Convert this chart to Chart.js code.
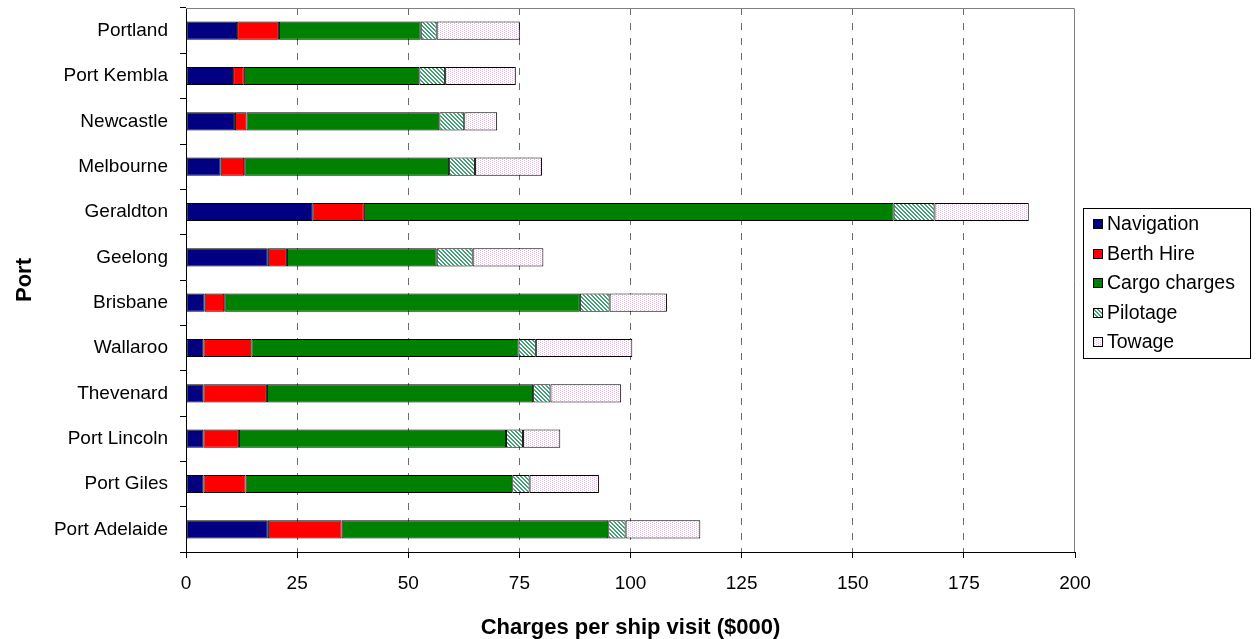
<!DOCTYPE html>
<html>
<head>
<meta charset="utf-8">
<title>Port charges per ship visit</title>
<script src="https://cdn.jsdelivr.net/npm/chart.js@4.4.1/dist/chart.umd.min.js"></script>
<style>
  html, body { margin: 0; padding: 0; background: #ffffff; }
  #wrap { position: relative; width: 1259px; height: 639px; }
</style>
</head>
<body>
<div id="wrap"><canvas id="chart"></canvas></div>
<script>
// Ports, listed top to bottom
const ports = ['Portland', 'Port Kembla', 'Newcastle', 'Melbourne', 'Geraldton', 'Geelong',
  'Brisbane', 'Wallaroo', 'Thevenard', 'Port Lincoln', 'Port Giles', 'Port Adelaide'];

// Charge components per ship visit ($000)
const navigation   = [11.5, 10.6, 11.0,  7.8,  28.4, 18.4,  4.2,  3.9,  3.9,  3.9,  3.9, 18.4];
const berthHire    = [ 9.4,  2.4,  2.6,  5.3,  11.6,  4.3,  4.4, 10.8, 14.3,  8.0,  9.5, 16.6];
const cargoCharges = [31.9, 39.5, 43.4, 46.1, 119.2, 33.7, 80.0, 60.1, 59.9, 60.1, 60.0, 60.0];
const pilotage     = [ 3.6,  5.8,  5.6,  5.8,   9.2,  8.1,  6.7,  3.9,  3.9,  3.8,  3.9,  3.9];
const towage       = [18.7, 15.9,  7.4, 15.1,  21.2, 15.9, 12.9, 21.7, 15.9,  8.4, 15.6, 16.8];

const seriesNames = ['Navigation', 'Berth Hire', 'Cargo charges', 'Pilotage', 'Towage'];

// Value axis
const xMin = 0;
const xMax = 200;
const xStep = 25;

const FONT = "'Liberation Sans', Arial, Helvetica, sans-serif";

// Small repeating tiles for the hatched fills
function makePattern(size, draw) {
  const tile = document.createElement('canvas');
  tile.width = size; tile.height = size;
  const t = tile.getContext('2d');
  t.fillStyle = '#ffffff';
  t.fillRect(0, 0, size, size);
  draw(t);
  return document.getElementById('chart').getContext('2d').createPattern(tile, 'repeat');
}

const pilotageFill = makePattern(4, t => {
  t.fillStyle = '#44a077';
  for (let y = 0; y < 4; y++) {
    t.fillRect(y % 4, y, 1, 1);
    t.fillRect((y + 1) % 4, y, 1, 1);
  }
});

const towageFill = makePattern(4, t => {
  t.fillStyle = '#dcc0dc';
  t.fillRect(0, 0, 1, 1);
  t.fillRect(0, 2, 1, 1);
  t.fillRect(2, 1, 1, 1);
  t.fillRect(2, 3, 1, 1);
});

const fills = ['#000080', '#ff0000', '#008000', pilotageFill, towageFill];
const values = [navigation, berthHire, cargoCharges, pilotage, towage];

// Plot frame: top and right edges of the plot area
const plotFrame = {
  id: 'plotFrame',
  afterDatasetsDraw(chart) {
    const { ctx, chartArea: a } = chart;
    ctx.save();
    ctx.strokeStyle = '#808080';
    ctx.lineWidth = 1;
    ctx.beginPath();
    ctx.moveTo(a.left, a.top + 0.5);
    ctx.lineTo(a.right - 0.5, a.top + 0.5);
    ctx.lineTo(a.right - 0.5, a.bottom);
    ctx.stroke();
    ctx.restore();
  }
};

// Framed legend to the right of the plot
const boxedLegend = {
  id: 'boxedLegend',
  afterDraw(chart, args, o) {
    const { ctx } = chart;
    ctx.save();
    ctx.lineWidth = 1;
    ctx.strokeStyle = '#000000';
    ctx.strokeRect(o.left + 0.5, o.top + 0.5, o.width, o.height);
    ctx.font = o.fontSize + 'px ' + FONT;
    ctx.textBaseline = 'middle';
    ctx.textAlign = 'left';
    chart.data.datasets.forEach((ds, i) => {
      const cy = Math.round(o.top + o.firstRow + i * o.rowGap);
      const bx = o.left + o.boxInset;
      ctx.fillStyle = ds.backgroundColor;
      ctx.fillRect(bx, cy - o.box / 2, o.box, o.box);
      ctx.strokeStyle = '#000000';
      ctx.strokeRect(bx + 0.5, cy - o.box / 2 + 0.5, o.box - 1, o.box - 1);
      ctx.fillStyle = '#000000';
      ctx.fillText(ds.label, bx + o.box + o.textGap, cy + 1);
    });
    ctx.restore();
  }
};

new Chart(document.getElementById('chart'), {
  type: 'bar',
  data: {
    labels: ports,
    datasets: seriesNames.map((name, i) => ({
      label: name,
      data: values[i],
      backgroundColor: fills[i],
      borderColor: '#000000',
      borderWidth: 1,
      borderSkipped: false,
      barPercentage: 0.4,
      categoryPercentage: 1.0
    }))
  },
  options: {
    indexAxis: 'y',
    responsive: true,
    maintainAspectRatio: false,
    animation: false,
    events: [],
    layout: { padding: { top: 8, right: 184, bottom: 0, left: 0 } },
    plugins: {
      legend: { display: false },
      tooltip: { enabled: false },
      boxedLegend: {
        left: 1083, top: 208, width: 167, height: 150,
        firstRow: 16, rowGap: 29.5, box: 10, boxInset: 10, textGap: 4, fontSize: 19.5
      }
    },
    scales: {
      x: {
        stacked: true,
        min: xMin,
        max: xMax,
        afterFit(scale) { scale.height = 87; },
        ticks: {
          stepSize: xStep,
          padding: 14,
          color: '#000000',
          font: { family: FONT, size: 19 }
        },
        grid: {
          color: ctx => (ctx.tick && (ctx.tick.value === xMin || ctx.tick.value === xMax)) ? 'rgba(0,0,0,0)' : '#6b6b6b',
          lineWidth: 1,
          tickColor: '#000000',
          tickLength: 6,
          drawTicks: true
        },
        border: { display: true, color: '#000000', width: 1, dash: [7, 8] },
        title: {
          display: true,
          text: 'Charges per ship visit ($000)',
          color: '#000000',
          font: { family: FONT, size: 22, weight: 'bold', lineHeight: 1 },
          padding: { top: 22, bottom: 0 }
        }
      },
      y: {
        stacked: true,
        afterFit(scale) {
          scale.width = 186;
          scale.paddingTop = 0;
          scale.paddingBottom = 0;
        },
        ticks: {
          padding: 12,
          color: '#000000',
          font: { family: FONT, size: 19 }
        },
        grid: {
          drawOnChartArea: false,
          drawTicks: true,
          tickLength: 6,
          tickColor: '#000000',
          offset: true
        },
        border: { display: true, color: '#000000', width: 1 },
        title: {
          display: true,
          text: 'Port',
          color: '#000000',
          font: { family: FONT, size: 22, weight: 'bold', lineHeight: 1 },
          padding: { top: 14, bottom: 0 }
        }
      }
    }
  },
  plugins: [plotFrame, boxedLegend]
});
</script>
</body>
</html>
